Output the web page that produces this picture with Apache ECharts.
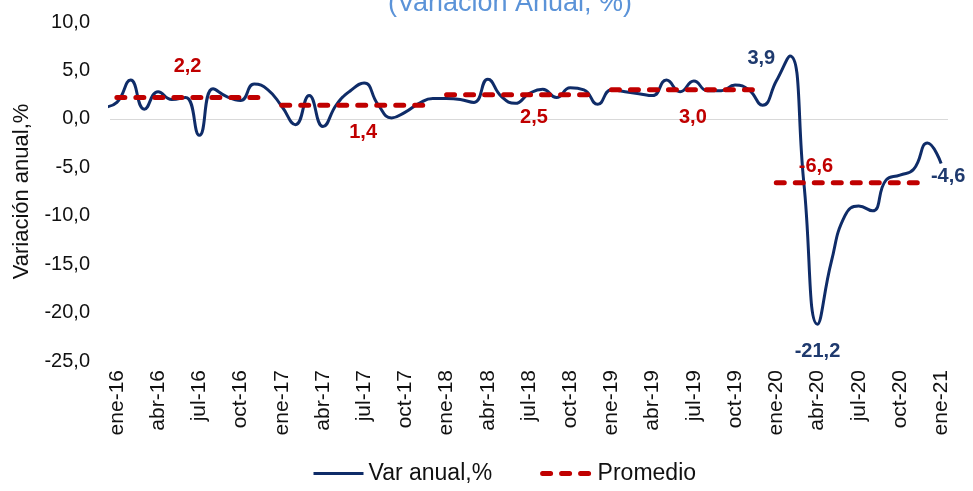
<!DOCTYPE html>
<html><head><meta charset="utf-8">
<script src="https://cdn.jsdelivr.net/npm/echarts@6/dist/echarts.min.js"></script>
<style>html,body{margin:0;padding:0;background:#fff}#c{width:973px;height:491px}</style>
</head><body><div id="c"></div>
<script>
// ---- data ----
const categories = [
  'ene-16','feb-16','mar-16','abr-16','may-16','jun-16','jul-16','ago-16','sep-16','oct-16','nov-16','dic-16',
  'ene-17','feb-17','mar-17','abr-17','may-17','jun-17','jul-17','ago-17','sep-17','oct-17','nov-17','dic-17',
  'ene-18','feb-18','mar-18','abr-18','may-18','jun-18','jul-18','ago-18','sep-18','oct-18','nov-18','dic-18',
  'ene-19','feb-19','mar-19','abr-19','may-19','jun-19','jul-19','ago-19','sep-19','oct-19','nov-19','dic-19',
  'ene-20','feb-20','mar-20','abr-20','may-20','jun-20','jul-20','ago-20','sep-20','oct-20','nov-20','dic-20',
  'ene-21'
];
const prevValue = 1.2; // dic-15, only its stub is visible at the left edge
const varAnual = [
  1.7, 4.0, 1.0, 2.8, 2.0, 2.2, -1.7, 3.1, 2.3, 1.9, 3.6, 3.0,
  1.3, -0.6, 2.4, -0.8, 1.5, 2.9, 3.7, 1.5, 0.1, 0.7, 1.6, 2.1,
  2.1, 2.0, 1.7, 4.1, 2.3, 1.6, 2.6, 3.05, 2.2, 3.2, 3.0, 1.5,
  3.0, 2.8, 2.6, 2.4, 4.0, 2.8, 3.9, 2.9, 2.9, 3.5, 3.0, 1.4,
  3.9, 6.5, -6.5, -21.2, -14.8, -10.0, -9.0, -9.5, -6.3, -5.8, -5.2, -2.5,
  -4.6
];
const promedioValues = [2.2, 1.4, 2.5, 3.0, -6.6];
const promedioStart = [0, 12, 24, 36, 48];
const yMin = -25, yMax = 10, yStep = 5;

// ---- styles ----
const FONT = 'Liberation Sans, Arial, sans-serif';
const NAVY = '#0f2c68';
const RED = '#c00000';
const fmt = v => v.toFixed(1).replace('.', ',');

const lineLabelCfg = {
  48: {position: 'top', distance: 13, offset: [-15, 0]},
  51: {position: 'bottom', distance: 17, offset: [0, 0]},
  60: {position: 'bottom', distance: 3, offset: [7, 0]}
};
const avgLabelCfg = [
  {idx: 5, position: 'top', distance: 21, offset: [2, 0]},
  {idx: 18, position: 'bottom', distance: 17, offset: [-1, 0]},
  {idx: 30, position: 'bottom', distance: 13, offset: [5, 0]},
  {idx: 42, position: 'bottom', distance: 18, offset: [-1, 0]},
  {idx: 51, position: 'top', distance: 6, offset: [-1.5, 0]}
];

const lineData = [[-1, prevValue]].concat(varAnual.map((v, i) => {
  const cfg = lineLabelCfg[i];
  if (!cfg) return [i, v];
  return {value: [i, v], label: Object.assign({show: true}, cfg)};
}));

const avgLine = {color: RED, width: 5, type: [8, 11], cap: 'round'};
const avgSeries = promedioValues.map((p, k) => {
  const start = promedioStart[k];
  const lab = avgLabelCfg[k];
  const data = categories.map((c, i) => {
    if (i < start || i > start + 11) return null;
    if (i === lab.idx) return {value: p, label: {show: true, position: lab.position, distance: lab.distance, offset: lab.offset}};
    return p;
  });
  return {
    name: 'Promedio', type: 'line', xAxisIndex: 0, yAxisIndex: 0,
    data: data, symbol: 'circle', symbolSize: 0, showAllSymbol: true,
    lineStyle: avgLine,
    itemStyle: {color: RED},
    label: {show: false, color: RED, fontFamily: FONT, fontSize: 20, fontWeight: 'bold',
      formatter: pr => fmt(pr.value)},
    emphasis: {disabled: true}, silent: true, z: 3
  };
});

const chart = echarts.init(document.getElementById('c'), null, {renderer: 'canvas'});
chart.setOption({
  animation: false,
  backgroundColor: '#fff',
  graphic: [{
    type: 'text', left: 388, top: -10,
    style: {text: '(Variación Anual, %)', fill: '#5b93d8', font: '27px ' + FONT}
  }],
  grid: {left: 110, right: 25, top: 22, bottom: 130},
  legend: {
    left: 307, top: 457, itemWidth: 50, itemHeight: 22, itemGap: 48,
    textStyle: {fontFamily: FONT, fontSize: 23, color: '#111'},
    itemStyle: {opacity: 0},
    data: [
      {name: 'Var anual,%', lineStyle: {color: NAVY, width: 3}},
      {name: 'Promedio', lineStyle: {color: RED, width: 5, type: [8, 11], cap: 'round'}}
    ]
  },
  xAxis: [{
    type: 'category', data: categories, boundaryGap: true,
    axisLine: {show: false}, axisTick: {show: false}, splitLine: {show: false},
    axisLabel: {interval: 2, rotate: 90, margin: 9, fontFamily: FONT, fontSize: 21, color: '#111'}
  }, {
    type: 'value', min: -0.5, max: 60.5, show: false
  }],
  yAxis: {
    type: 'value', min: yMin, max: yMax, interval: yStep,
    name: 'Variación anual,%', nameLocation: 'middle', nameGap: 77,
    nameTextStyle: {fontFamily: FONT, fontSize: 22, color: '#111'},
    axisLine: {show: false}, axisTick: {show: false},
    axisLabel: {margin: 20, fontFamily: FONT, fontSize: 20, color: '#111', formatter: v => fmt(v)},
    splitLine: {show: true, lineStyle: {width: 1, color: ['rgba(0,0,0,0)','rgba(0,0,0,0)','rgba(0,0,0,0)','rgba(0,0,0,0)','rgba(0,0,0,0)','#d9d9d9','rgba(0,0,0,0)','rgba(0,0,0,0)']}}
  },
  series: [{
    name: 'Var anual,%', type: 'line', xAxisIndex: 1, yAxisIndex: 0,
    data: lineData, smooth: 0.5, clip: true,
    symbol: 'circle', symbolSize: 0,
    lineStyle: {color: NAVY, width: 3},
    itemStyle: {color: NAVY},
    label: {show: false, color: '#1f3a6e', fontFamily: FONT, fontSize: 20, fontWeight: 'bold',
      formatter: pr => fmt(pr.value[1])},
    emphasis: {disabled: true}, silent: true, z: 2
  }].concat(avgSeries)
});
</script>
</body></html>
